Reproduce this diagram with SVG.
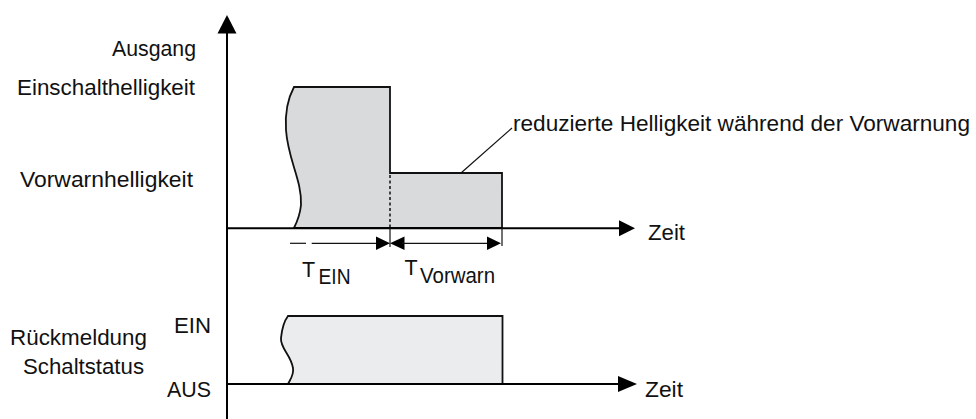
<svg xmlns="http://www.w3.org/2000/svg" width="976" height="419" viewBox="0 0 976 419">
<style>
  text { font-family: "Liberation Sans", Arial, sans-serif; font-size: 21.5px; fill: #111; }
  .axis { stroke: #000; stroke-width: 2; fill: none; }
  .edge { stroke: #111; stroke-width: 1.8; }
  .thin { stroke: #111; stroke-width: 1.2; fill: none; }
  .head { fill: #000; stroke: none; }
  .fillA { fill: #d9dadc; }
  .fillB { fill: #ebeced; }
</style>
<rect width="976" height="419" fill="#fff"/>

<g id="upper-signal">
  <path class="fillA edge" d="M294,87 L390,87 L390,173 L502,173 L502,228 L294,228 C297,222 300,215 301,205 C302,180 288,160 286,130 C285,115 287,100 294,87 Z"/>
  <line x1="390" y1="175" x2="390" y2="228" stroke="#111" stroke-width="1.5" stroke-dasharray="3,2.5"/>
</g>

<g id="lower-signal">
  <path class="fillB edge" d="M288,316 L502.5,316 L502.5,384 L288,384 C291,378 294,375 293,368 C291,355 280,348 281,338 C282,328 285,320 288,316 Z"/>
</g>

<g id="axes">
  <line class="axis" x1="227" y1="30" x2="227" y2="419"/>
  <polygon class="head" points="227,15 217.5,33.5 236.5,33.5"/>
  <line class="axis" x1="227" y1="228.3" x2="622" y2="228.3"/>
  <polygon class="head" points="635,228.3 619,220.3 619,236.3"/>
  <line class="axis" x1="227" y1="384" x2="622" y2="384"/>
  <polygon class="head" points="637,384 618,376 618,392"/>
</g>

<g id="connectors">
  <line class="thin" x1="461" y1="173" x2="512" y2="128"/>
  <line class="thin" x1="390" y1="228" x2="390" y2="247"/>
  <line class="thin" x1="502" y1="228" x2="502" y2="246"/>
  <line class="thin" x1="290" y1="243.3" x2="306" y2="243.3"/>
  <line class="thin" x1="311.7" y1="243.3" x2="378" y2="243.3"/>
  <polygon class="head" points="390,243.3 376,236.5 376,250.1"/>
  <polygon class="head" points="390,243.3 404.5,236.5 404.5,250.1"/>
  <line class="thin" x1="402" y1="243.3" x2="490" y2="243.3"/>
  <polygon class="head" points="501,243.3 487,236.5 487,250.1"/>
</g>

<g id="labels">
  <text x="112" y="56" textLength="84" lengthAdjust="spacingAndGlyphs">Ausgang</text>
  <text x="17" y="95" textLength="178" lengthAdjust="spacingAndGlyphs">Einschalthelligkeit</text>
  <text x="20" y="187" textLength="173" lengthAdjust="spacingAndGlyphs">Vorwarnhelligkeit</text>
  <text x="513" y="131" textLength="457" lengthAdjust="spacingAndGlyphs">reduzierte Helligkeit während der Vorwarnung</text>
  <text x="648" y="240" textLength="37" lengthAdjust="spacingAndGlyphs">Zeit</text>
  <text x="645" y="397" textLength="38" lengthAdjust="spacingAndGlyphs">Zeit</text>
  <text x="302" y="277">T</text>
  <text x="318.5" y="283.5" textLength="32" lengthAdjust="spacingAndGlyphs">EIN</text>
  <text x="404.5" y="275">T</text>
  <text x="420" y="283" textLength="75" lengthAdjust="spacingAndGlyphs">Vorwarn</text>
  <text x="10" y="345" textLength="137" lengthAdjust="spacingAndGlyphs">Rückmeldung</text>
  <text x="23" y="374" textLength="121" lengthAdjust="spacingAndGlyphs">Schaltstatus</text>
  <text x="174" y="333" textLength="37" lengthAdjust="spacingAndGlyphs">EIN</text>
  <text x="167" y="397" textLength="44" lengthAdjust="spacingAndGlyphs">AUS</text>
</g>
</svg>
